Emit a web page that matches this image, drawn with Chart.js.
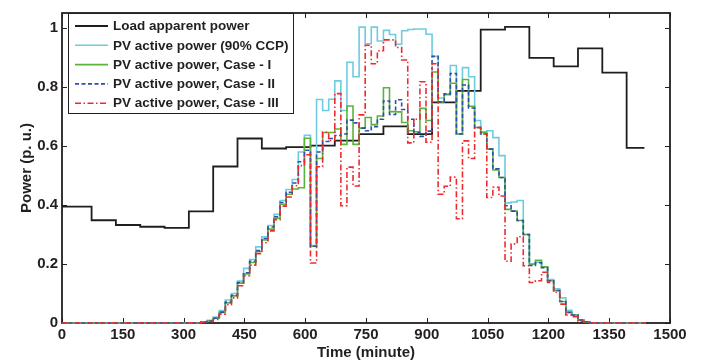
<!DOCTYPE html>
<html><head><meta charset="utf-8">
<script src="https://cdn.jsdelivr.net/npm/chart.js@4.4.0/dist/chart.umd.min.js"></script>
<style>html,body{margin:0;padding:0;background:#fff;}canvas{display:block;}</style>
</head><body>
<canvas id="c" width="701" height="362"></canvas>
<script>
// ---------- data ----------
const xTicks = [0, 150, 300, 450, 600, 750, 900, 1050, 1200, 1350, 1500];
const yTicks = [0, 0.2, 0.4, 0.6, 0.8, 1];
const seriesLabels = ['Load apparent power', 'PV active power (90% CCP)', 'PV active power, Case - I', 'PV active power, Case - II', 'PV active power, Case - III'];

// load: step start times (minute) and values (p.u.)
const loadTimes = [0, 73, 133, 193, 253, 313, 373, 433, 493, 553, 613, 673, 733, 793, 853, 913, 973, 1033, 1093, 1153, 1213, 1273, 1333, 1393];
const loadEnd = 1437;
const loadValues = [0.394, 0.348, 0.332, 0.326, 0.322, 0.378, 0.530, 0.625, 0.591, 0.596, 0.601, 0.618, 0.640, 0.666, 0.640, 0.747, 0.786, 0.994, 1.003, 0.898, 0.869, 0.930, 0.848, 0.593];

// PV: step start times (minute); zero before the first and after the last
const pvTimes = [343, 358, 373, 388, 403, 418, 433, 448, 463, 478, 493, 508, 523, 538, 553, 568, 583, 598, 613, 628,
  643, 658, 673, 688, 703, 718, 733, 748, 763, 778, 793, 808, 823, 838, 853, 868, 883, 898, 913, 928,
  943, 958, 973, 988, 1003, 1018, 1033, 1048, 1063, 1078, 1093, 1108, 1123, 1138, 1153, 1168, 1183, 1198, 1213, 1228,
  1243, 1258, 1273, 1288, 1303];
const pvEnd = 1440;
const pv90 = [0.004, 0.009, 0.020, 0.042, 0.078, 0.100, 0.142, 0.185, 0.215, 0.258,
  0.292, 0.330, 0.368, 0.415, 0.452, 0.486, 0.579, 0.636, 0.262, 0.757,
  0.720, 0.758, 0.820, 0.720, 0.883, 0.834, 1.002, 0.946, 1.002, 0.955,
  0.991, 0.977, 0.944, 0.990, 0.994, 0.996, 0.996, 0.978, 0.903, 0.762,
  0.776, 0.872, 0.640, 0.865, 0.834, 0.686, 0.648, 0.651, 0.628, 0.567,
  0.407, 0.410, 0.415, 0.300, 0.198, 0.206, 0.190, 0.147, 0.116, 0.085,
  0.043, 0.028, 0.010, 0.004, 0];
const pvCase1 = [0.003, 0.007, 0.016, 0.036, 0.068, 0.092, 0.135, 0.166, 0.205, 0.242,
  0.281, 0.318, 0.355, 0.402, 0.436, 0.454, 0.458, 0.626, 0.260, 0.557,
  0.645, 0.645, 0.657, 0.605, 0.735, 0.605, 0.660, 0.696, 0.672, 0.701,
  0.797, 0.716, 0.715, 0.679, 0.651, 0.648, 0.727, 0.686, 0.850, 0.749,
  0.773, 0.812, 0.640, 0.825, 0.734, 0.662, 0.645, 0.589, 0.518, 0.493,
  0.385, 0.379, 0.347, 0.300, 0.200, 0.212, 0.190, 0.143, 0.110, 0.073,
  0.036, 0.027, 0.010, 0.004, 0];
const pvCase2 = [0.003, 0.007, 0.016, 0.037, 0.071, 0.094, 0.137, 0.170, 0.209, 0.245,
  0.286, 0.325, 0.360, 0.408, 0.443, 0.474, 0.546, 0.585, 0.260, 0.579,
  0.615, 0.625, 0.635, 0.640, 0.687, 0.678, 0.660, 0.651, 0.665, 0.690,
  0.752, 0.706, 0.756, 0.723, 0.690, 0.645, 0.632, 0.650, 0.903, 0.749,
  0.776, 0.845, 0.640, 0.806, 0.728, 0.662, 0.640, 0.589, 0.522, 0.493,
  0.397, 0.379, 0.347, 0.300, 0.195, 0.204, 0.187, 0.143, 0.110, 0.073,
  0.036, 0.027, 0.010, 0.004, 0];
const pvCase3 = [0.002, 0.005, 0.012, 0.030, 0.062, 0.085, 0.126, 0.160, 0.196, 0.235,
  0.272, 0.312, 0.350, 0.396, 0.427, 0.465, 0.533, 0.570, 0.203, 0.529,
  0.646, 0.618, 0.777, 0.397, 0.528, 0.464, 0.705, 0.941, 0.878, 0.922,
  0.959, 0.959, 0.933, 0.891, 0.610, 0.690, 0.817, 0.612, 0.878, 0.436,
  0.463, 0.494, 0.353, 0.617, 0.557, 0.662, 0.640, 0.425, 0.460, 0.430,
  0.209, 0.268, 0.292, 0.194, 0.137, 0.143, 0.172, 0.137, 0.104, 0.064,
  0.027, 0.021, 0.006, 0.003, 0];

// ---------- build ----------
function stepPoints(times, values, end, leadZero) {
  const pts = [];
  if (leadZero) pts.push({x: 0, y: 0});
  times.forEach((t, i) => pts.push({x: t, y: values[i]}));
  pts.push({x: end, y: values[values.length - 1]});
  return pts;
}
const FONT = "'Liberation Sans', Arial, sans-serif";
const TXT = '#231f20';
const styles = [
  {color: '#1e1e1e', width: 1.8, dash: [], order: 4},
  {color: '#6dcbe2', width: 1.6, dash: [], order: 3},
  {color: '#5ab33c', width: 1.6, dash: [], order: 2},
  {color: '#2d4fa8', width: 1.6, dash: [4, 2.5], order: 1},
  {color: '#ee2a2f', width: 1.6, dash: [6, 2.5, 1.5, 2.5], order: 0}
];
const pointSets = [
  stepPoints(loadTimes, loadValues, loadEnd, false),
  stepPoints(pvTimes, pv90, pvEnd, true),
  stepPoints(pvTimes, pvCase1, pvEnd, true),
  stepPoints(pvTimes, pvCase2, pvEnd, true),
  stepPoints(pvTimes, pvCase3, pvEnd, true)
];
const datasets = pointSets.map((pts, i) => ({
  label: seriesLabels[i], data: pts, stepped: 'before',
  borderColor: styles[i].color, borderWidth: styles[i].width, borderDash: styles[i].dash,
  pointRadius: 0, fill: false, tension: 0, clip: false, order: styles[i].order
}));

const framePlugin = {
  id: 'frame',
  beforeDatasetsDraw(chart) {
    const {ctx, chartArea: a, scales} = chart;
    ctx.save();
    ctx.strokeStyle = '#231f20';
    ctx.lineWidth = 1;
    const tl = 5;
    ctx.beginPath();
    xTicks.forEach(v => {
      const x = Math.round(scales.x.getPixelForValue(v)) + 0.5;
      ctx.moveTo(x, a.bottom); ctx.lineTo(x, a.bottom - tl);
      ctx.moveTo(x, a.top); ctx.lineTo(x, a.top + tl);
    });
    yTicks.forEach(v => {
      const y = Math.round(scales.y.getPixelForValue(v)) + 0.5;
      ctx.moveTo(a.left, y); ctx.lineTo(a.left + tl, y);
      ctx.moveTo(a.right, y); ctx.lineTo(a.right - tl, y);
    });
    ctx.stroke();
    ctx.lineWidth = 1.8;
    ctx.strokeRect(a.left, a.top, a.right - a.left, a.bottom - a.top);
    ctx.restore();
  }
};

const legendPlugin = {
  id: 'boxLegend',
  afterDraw(chart) {
    const {ctx} = chart;
    const bx = 68.5, by = 13.5, bw = 225, bh = 100;
    ctx.save();
    ctx.fillStyle = '#fff';
    ctx.fillRect(bx, by, bw, bh);
    ctx.strokeStyle = '#231f20';
    ctx.lineWidth = 1;
    ctx.strokeRect(bx, by, bw, bh);
    ctx.font = 'bold 13.5px ' + FONT;
    ctx.textBaseline = 'middle';
    ctx.fillStyle = TXT;
    chart.data.datasets.forEach((ds, i) => {
      const y = 26 + i * 19.3;
      ctx.beginPath();
      ctx.setLineDash(ds.borderDash || []);
      ctx.strokeStyle = ds.borderColor;
      ctx.lineWidth = ds.borderWidth;
      ctx.moveTo(75, y); ctx.lineTo(108, y);
      ctx.stroke();
      ctx.setLineDash([]);
      ctx.fillText(ds.label, 113, y + 0.5);
    });
    ctx.restore();
  }
};

new Chart(document.getElementById('c').getContext('2d'), {
  type: 'line',
  data: {datasets},
  options: {
    responsive: false, animation: false, devicePixelRatio: 1,
    layout: {padding: {left: 0, right: 31, top: 5, bottom: 0}},
    plugins: {legend: {display: false}, tooltip: {enabled: false}},
    scales: {
      x: {
        type: 'linear', min: 0, max: 1500,
        grid: {display: false, drawTicks: false}, border: {display: false},
        afterBuildTicks: s => { s.ticks = xTicks.map(v => ({value: v})); },
        afterFit: s => { s.height = 39; },
        ticks: {font: {family: FONT, size: 15, weight: 'bold'}, color: TXT, padding: 3, maxRotation: 0, autoSkip: false, callback: v => String(v)},
        title: {display: true, text: 'Time (minute)', font: {family: FONT, size: 15, weight: 'bold'}, color: TXT, padding: {top: 0, bottom: 0}}
      },
      y: {
        type: 'linear', min: 0, max: 1.05,
        grid: {display: false, drawTicks: false}, border: {display: false},
        afterBuildTicks: s => { s.ticks = yTicks.map(v => ({value: v})); },
        afterFit: s => { s.width = 62; },
        ticks: {font: {family: FONT, size: 15, weight: 'bold'}, color: TXT, padding: 4, callback: v => String(v)},
        title: {display: true, text: 'Power (p. u.)', font: {family: FONT, size: 15, weight: 'bold'}, color: TXT, padding: {top: 18, bottom: 0}}
      }
    }
  },
  plugins: [framePlugin, legendPlugin]
});
</script>
</body></html>
